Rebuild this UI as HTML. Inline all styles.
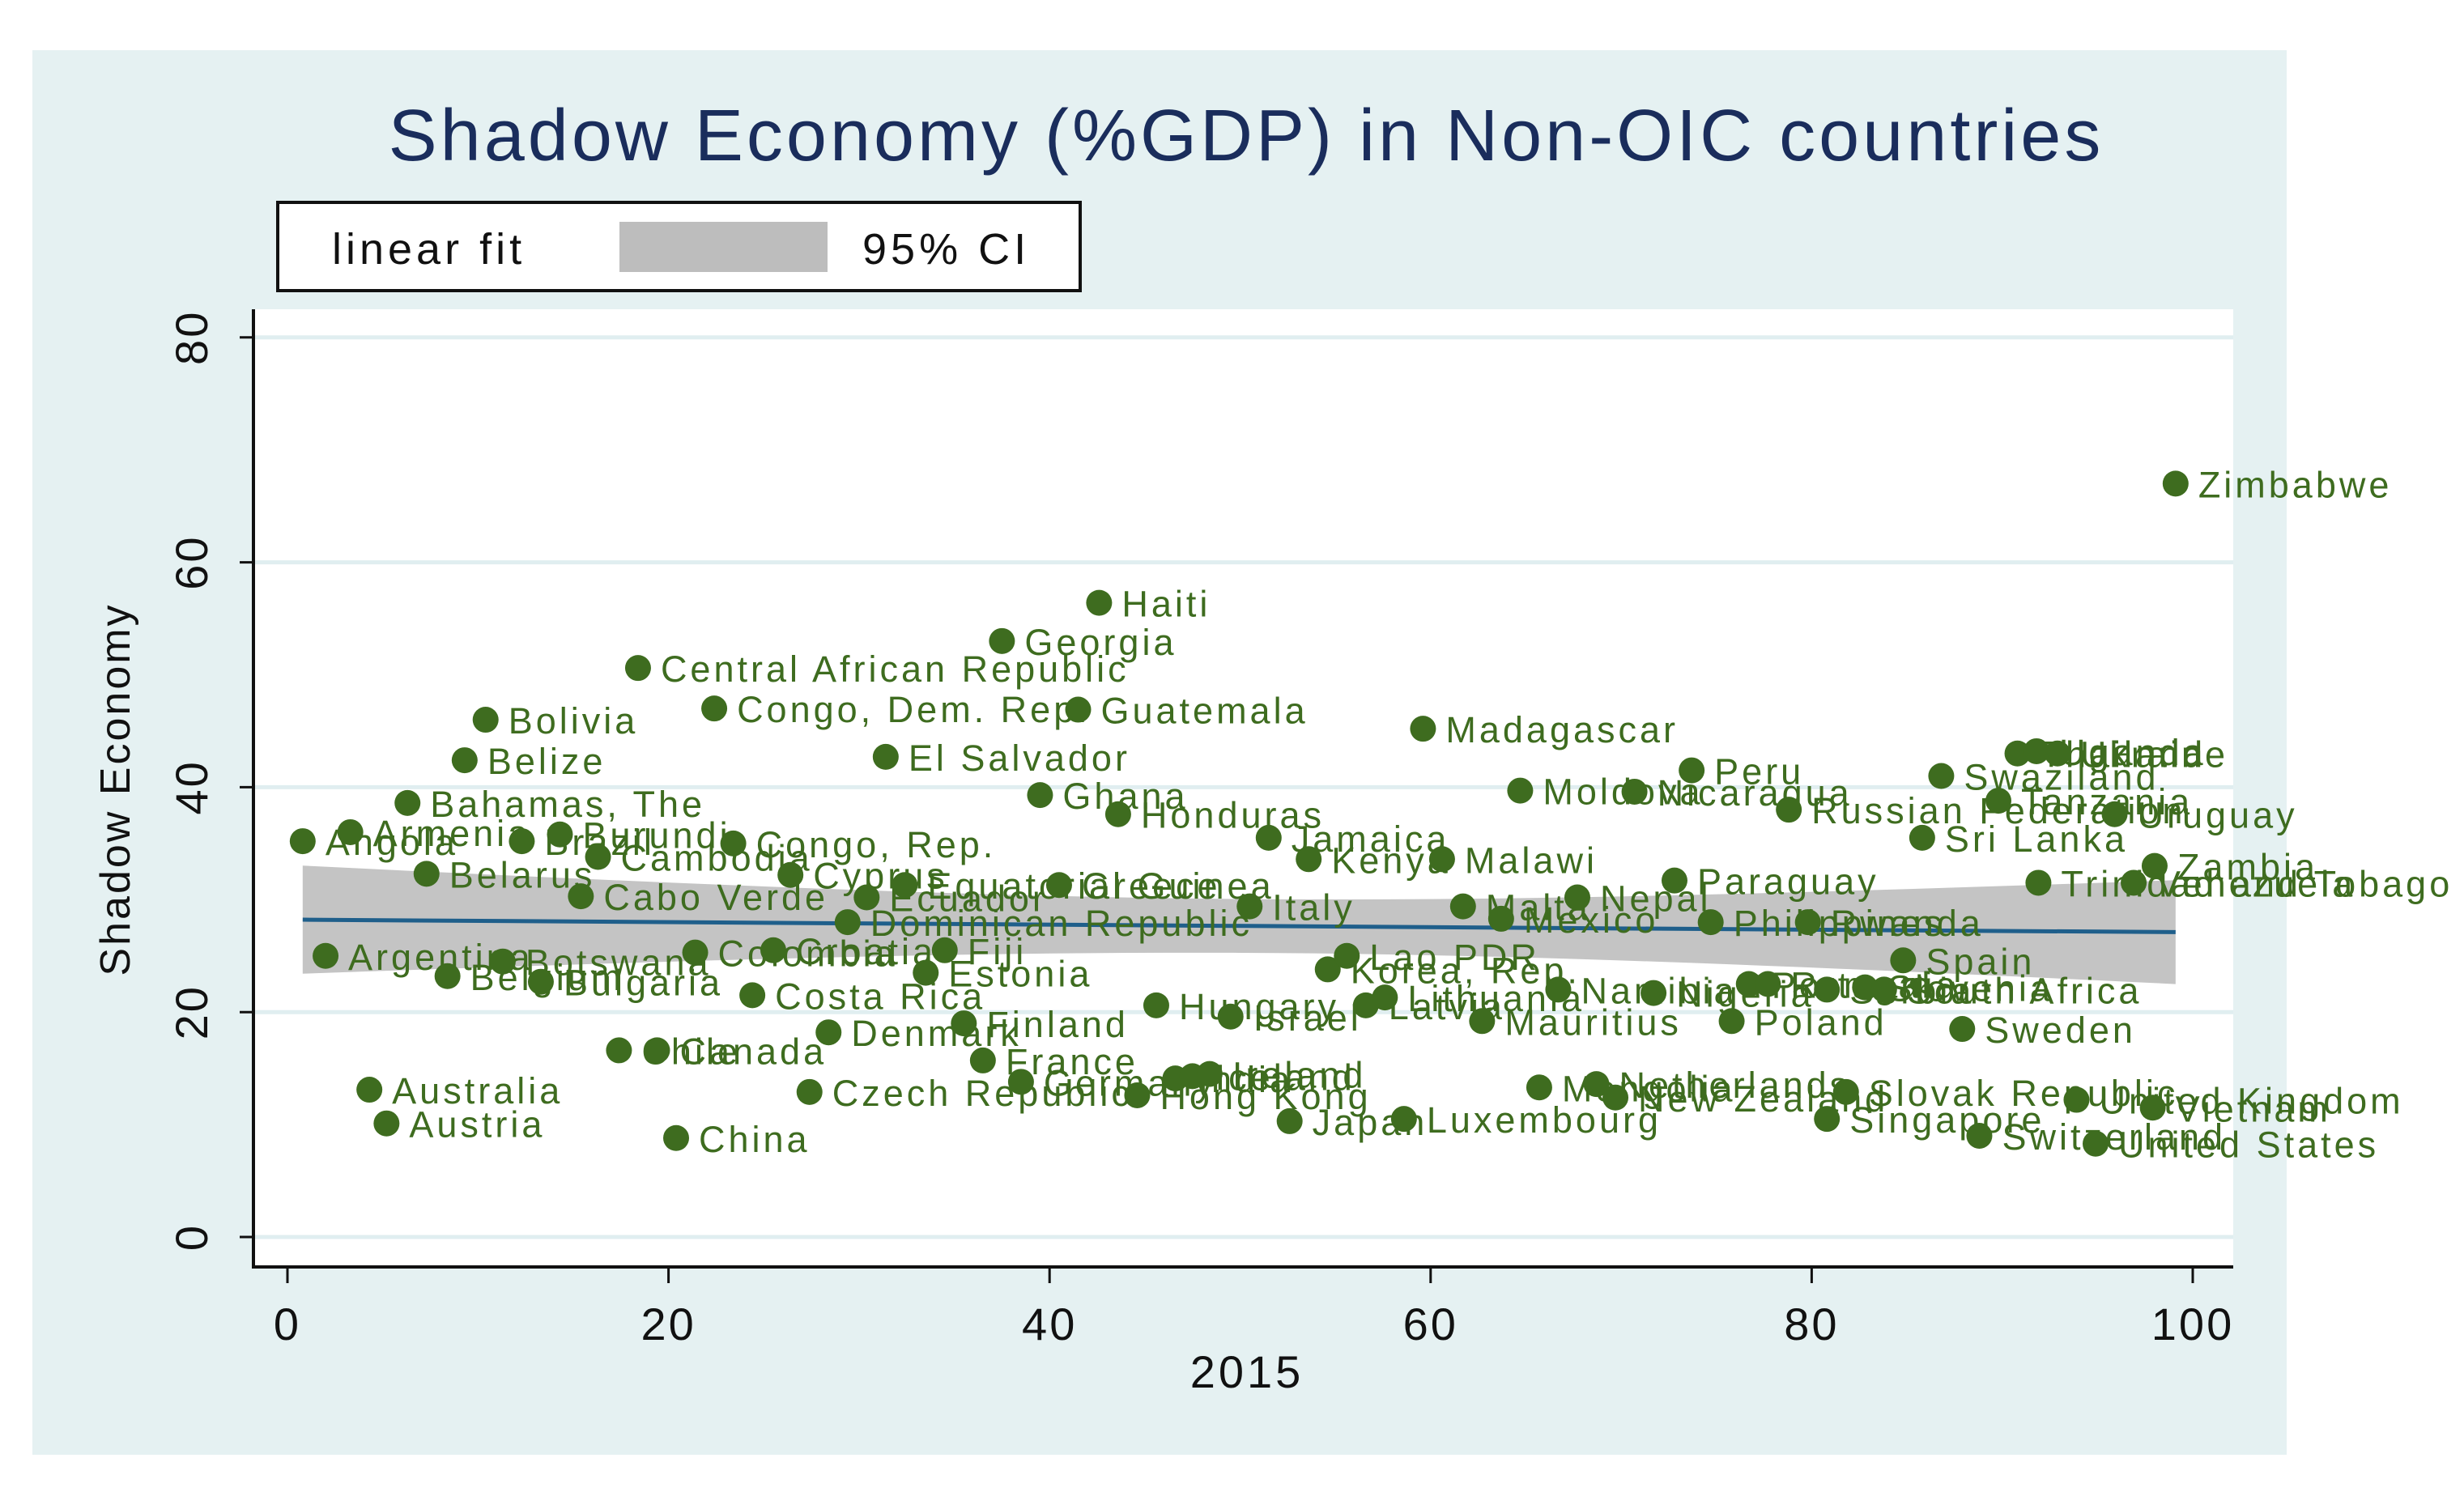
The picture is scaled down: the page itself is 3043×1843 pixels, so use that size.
<!DOCTYPE html>
<html><head><meta charset="utf-8"><style>
html,body{margin:0;padding:0;background:#fff;}
svg{display:block;font-family:"Liberation Sans",Arial,sans-serif;}
</style></head><body>
<svg id="chart" width="3043" height="1843" viewBox="0 0 3043 1843">
<rect x="40" y="62" width="2784" height="1735" fill="#e5f1f2"/>
<text x="1539" y="198" text-anchor="middle" font-size="90" letter-spacing="4" fill="#1a2d5c">Shadow Economy (%GDP) in Non-OIC countries</text>
<g>
<rect x="343" y="250" width="991" height="109" fill="#fff" stroke="#111" stroke-width="4"/>
<text x="410" y="326" font-size="54" letter-spacing="5" fill="#111">linear fit</text>
<rect x="765" y="274" width="257" height="62" fill="#bdbdbd"/>
<text x="1065" y="326" font-size="54" letter-spacing="5" fill="#111">95% CI</text>
</g>
<rect x="313" y="382" width="2445" height="1183" fill="#fff"/>
<g id="grid"></g><g id="band"></g><g id="fit"></g><g id="marks"></g><g id="axes"></g>
<text transform="translate(160,975) rotate(-90)" text-anchor="middle" font-size="52" letter-spacing="3" fill="#111">Shadow Economy</text>
<text x="1540" y="1714" text-anchor="middle" font-size="56" letter-spacing="4" fill="#111">2015</text>
</svg>
<script>
const countries=["Angola","Argentina","Armenia","Australia","Austria","Bahamas, The","Belarus","Belgium","Belize","Bolivia","Botswana","Brazil","Bulgaria","Burundi","Cabo Verde","Cambodia","Chile","Central African Republic","Canada","China","Colombia","Congo, Dem. Rep.","Congo, Rep.","Costa Rica","Croatia","Cyprus","Czech Republic","Denmark","Dominican Republic","Ecuador","El Salvador","Equatorial Guinea","Estonia","Fiji","Finland","France","Georgia","Germany","Ghana","Greece","Guatemala","Haiti","Honduras","Hong Kong","Hungary","India","Iceland","Ireland","Israel","Italy","Jamaica","Japan","Kenya","Korea, Rep.","Lao PDR","Latvia","Lithuania","Luxembourg","Madagascar","Malawi","Malta","Mauritius","Mexico","Moldova","Mongolia","Namibia","Nepal","Netherlands","New Zealand","Nicaragua","Nigeria","Paraguay","Peru","Philippines","Poland","Portugal","Romania","Russian Federation","Rwanda","Serbia","Singapore","Slovak Republic","Slovenia","South Africa","Spain","Sri Lanka","Swaziland","Sweden","Switzerland","Tanzania","Thailand","Trinidad and Tobago","Uganda","Ukraine","United Kingdom","United States","Uruguay","Venezuela","Vietnam","Zambia","Zimbabwe"];
const xValues=[0.8,2.0,3.3,4.3,5.2,6.3,7.3,8.4,9.3,10.4,11.3,12.3,13.3,14.3,15.4,16.3,17.4,18.4,19.4,20.4,21.4,22.4,23.4,24.4,25.5,26.4,27.4,28.4,29.4,30.4,31.4,32.4,33.5,34.5,35.5,36.5,37.5,38.5,39.5,40.5,41.5,42.6,43.6,44.6,45.6,46.6,47.5,48.4,49.5,50.5,51.5,52.6,53.6,54.6,55.6,56.6,57.6,58.6,59.6,60.6,61.7,62.7,63.7,64.7,65.7,66.7,67.7,68.7,69.7,70.7,71.7,72.8,73.7,74.7,75.8,76.7,77.7,78.8,79.8,80.8,80.8,81.8,82.8,83.8,84.8,85.8,86.8,87.9,88.8,89.8,90.8,91.9,91.8,92.9,93.9,94.9,95.9,96.9,97.9,98.0,99.1];
const yValues=[35.2,25,36,13.1,10.1,38.6,32.3,23.2,42.4,46,24.5,35.2,22.7,35.8,30.3,33.8,16.6,50.6,16.6,8.8,25.3,47,35,21.5,25.5,32.2,12.9,18.2,28,30.2,42.7,31.3,23.5,25.5,19,15.7,53,13.8,39.3,31.3,46.9,56.4,37.6,12.6,20.6,14.1,14.3,14.5,19.6,29.4,35.5,10.3,33.6,23.8,25,20.6,21.3,10.5,45.2,33.6,29.4,19.2,28.3,39.7,13.3,22,30.2,13.6,12.4,39.6,21.7,31.7,41.5,28,19.2,22.5,22.5,38,28,22,10.5,12.9,22.2,22,24.6,35.5,41,18.5,9,38.8,43,31.5,43.2,43,12.2,8.3,37.6,31.5,11.5,33,67];
const yTicks=[0,20,40,60,80];
const xTicks=[0,20,40,60,80,100];

const NS="http://www.w3.org/2000/svg";
const X=v=>355+v*23.53, Y=v=>1528-v*13.89;
function mk(tag,parent,attrs){const e=document.createElementNS(NS,tag);for(const k in attrs)e.setAttribute(k,attrs[k]);document.getElementById(parent).appendChild(e);return e;}

yTicks.forEach(t=>{
  const g=mk('line','grid',{x1:313,x2:2758,y1:Y(t),y2:Y(t),stroke:'#e0eef0','stroke-width':5});
  
  
  const tk=mk('line','axes',{x1:296,x2:313,y1:Y(t),y2:Y(t),stroke:'#111','stroke-width':3});
  
  
  const lb=mk('text','axes',{transform:`translate(256,${Y(t)}) rotate(-90)`,'text-anchor':'middle','font-size':56,'letter-spacing':3,fill:'#111'});
  lb.textContent=t;
  
  
});
xTicks.forEach(t=>{
  const tk=mk('line','axes',{x1:X(t),x2:X(t),y1:1565,y2:1585,stroke:'#111','stroke-width':3});
  
  
  const lb=mk('text','axes',{x:X(t),y:1655,'text-anchor':'middle','font-size':56,'letter-spacing':3,fill:'#111'});
  lb.textContent=t;
  
  
});
const ax=mk('path','axes',{d:'M313,382 V1565 H2758',fill:'none',stroke:'#111','stroke-width':4});



// regression + CI from data
const n=xValues.length;
const mx=xValues.reduce((a,b)=>a+b)/n, my=yValues.reduce((a,b)=>a+b)/n;
let sxx=0,sxy=0;for(let i=0;i<n;i++){sxx+=(xValues[i]-mx)**2;sxy+=(xValues[i]-mx)*(yValues[i]-my);}
const b=sxy/sxx,a=my-b*mx;
let sse=0;for(let i=0;i<n;i++)sse+=(yValues[i]-a-b*xValues[i])**2;
const s=Math.sqrt(sse/(n-2)), tc=1.984;
const x0=Math.min(...xValues),x1=Math.max(...xValues);
let up=[],lo=[];
for(let k=0;k<=50;k++){const xv=x0+(x1-x0)*k/50;const h=tc*s*Math.sqrt(1/n+(xv-mx)**2/sxx);const yh=a+b*xv;up.push([X(xv),Y(yh+h)]);lo.push([X(xv),Y(yh-h)]);}
const band=mk('path','band',{d:'M'+up.map(p=>p.join(',')).join(' L')+' L'+lo.reverse().map(p=>p.join(',')).join(' L')+'Z',fill:'#c4c4c4'});


const fl=mk('line','fit',{x1:X(x0),y1:Y(a+b*x0),x2:X(x1),y2:Y(a+b*x1),stroke:'#1f5f8b','stroke-width':5});



for(let i=0;i<n;i++){
  const c=mk('circle','marks',{cx:X(xValues[i]),cy:Y(yValues[i]),r:16,fill:'#3e6c1f'});
  
  
  const t=mk('text','marks',{x:X(xValues[i])+28,y:Y(yValues[i])+17,'font-size':45,'letter-spacing':4,fill:'#3e6c1f'});
  t.textContent=countries[i];
  
  
}
</script>
</body></html>
